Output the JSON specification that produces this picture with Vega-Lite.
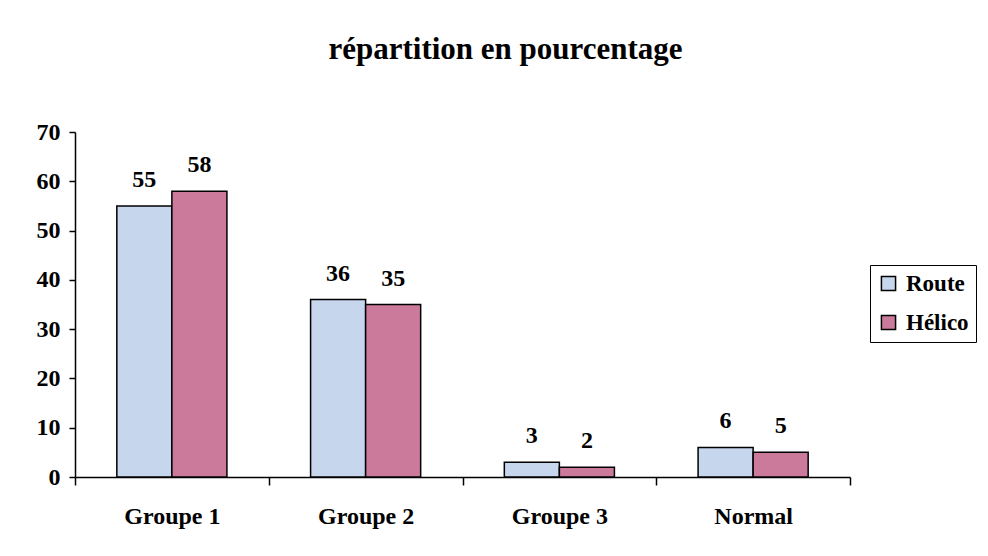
{
  "$schema": "https://vega.github.io/schema/vega-lite/v6.json",
  "width": 775,
  "height": 345,
  "autosize": "none",
  "padding": {"left": 75, "top": 132, "right": 138, "bottom": 79},
  "background": "white",
  "title": {
    "text": "répartition en pourcentage",
    "font": "Liberation Serif",
    "fontSize": 31,
    "fontWeight": "bold",
    "color": "black",
    "baseline": "alphabetic",
    "offset": 30,
    "dx": 43
  },
  "data": {
    "values": [
      {"groupe": "Groupe 1", "serie": "Route", "valeur": 55},
      {"groupe": "Groupe 1", "serie": "Hélico", "valeur": 58},
      {"groupe": "Groupe 2", "serie": "Route", "valeur": 36},
      {"groupe": "Groupe 2", "serie": "Hélico", "valeur": 35},
      {"groupe": "Groupe 3", "serie": "Route", "valeur": 3},
      {"groupe": "Groupe 3", "serie": "Hélico", "valeur": 2},
      {"groupe": "Normal", "serie": "Route", "valeur": 6},
      {"groupe": "Normal", "serie": "Hélico", "valeur": 5}
    ]
  },
  "encoding": {
    "x": {
      "field": "groupe",
      "type": "nominal",
      "sort": null,
      "scale": {"paddingInner": 0, "paddingOuter": 0},
      "axis": {
        "title": null,
        "labelAngle": 0,
        "tickBand": "extent",
        "tickSize": 8,
        "labelPadding": 19,
        "domainColor": "black",
        "tickColor": "black",
        "domainWidth": 1.5,
        "tickWidth": 1.5
      }
    },
    "xOffset": {
      "field": "serie",
      "type": "nominal",
      "sort": ["Route", "Hélico"],
      "scale": {"paddingOuter": 0.76, "paddingInner": 0}
    },
    "y": {
      "field": "valeur",
      "type": "quantitative",
      "scale": {"domain": [0, 70]},
      "axis": {
        "title": null,
        "values": [0, 10, 20, 30, 40, 50, 60, 70],
        "grid": false,
        "tickSize": 6,
        "labelPadding": 9,
        "domainColor": "black",
        "tickColor": "black",
        "domainWidth": 1.5,
        "tickWidth": 1.5
      }
    }
  },
  "layer": [
    {
      "mark": {"type": "bar", "stroke": "black", "strokeWidth": 1.5},
      "encoding": {
        "color": {
          "field": "serie",
          "type": "nominal",
          "sort": ["Route", "Hélico"],
          "scale": {"domain": ["Route", "Hélico"], "range": ["#c6d6ec", "#cc7a9c"]},
          "legend": {
            "title": null,
            "orient": "none",
            "legendX": 795,
            "legendY": 133,
            "symbolType": "square",
            "symbolSize": 200,
            "symbolStrokeColor": "black",
            "symbolStrokeWidth": 1.5,
            "labelFont": "Liberation Serif",
            "labelFontSize": 23,
            "labelFontWeight": "bold",
            "labelColor": "black",
            "labelOffset": 6,
            "rowPadding": 15,
            "padding": 7,
            "strokeColor": "black",
            "fillColor": "white"
          }
        }
      }
    },
    {
      "mark": {
        "type": "text",
        "baseline": "alphabetic",
        "dy": -19,
        "font": "Liberation Serif",
        "fontSize": 24,
        "fontWeight": "bold",
        "color": "black"
      },
      "encoding": {
        "text": {"field": "valeur", "type": "quantitative"}
      }
    }
  ],
  "config": {
    "view": {"stroke": null},
    "axis": {
      "labelFont": "Liberation Serif",
      "labelFontSize": 24,
      "labelFontWeight": "bold",
      "labelColor": "black"
    }
  }
}
